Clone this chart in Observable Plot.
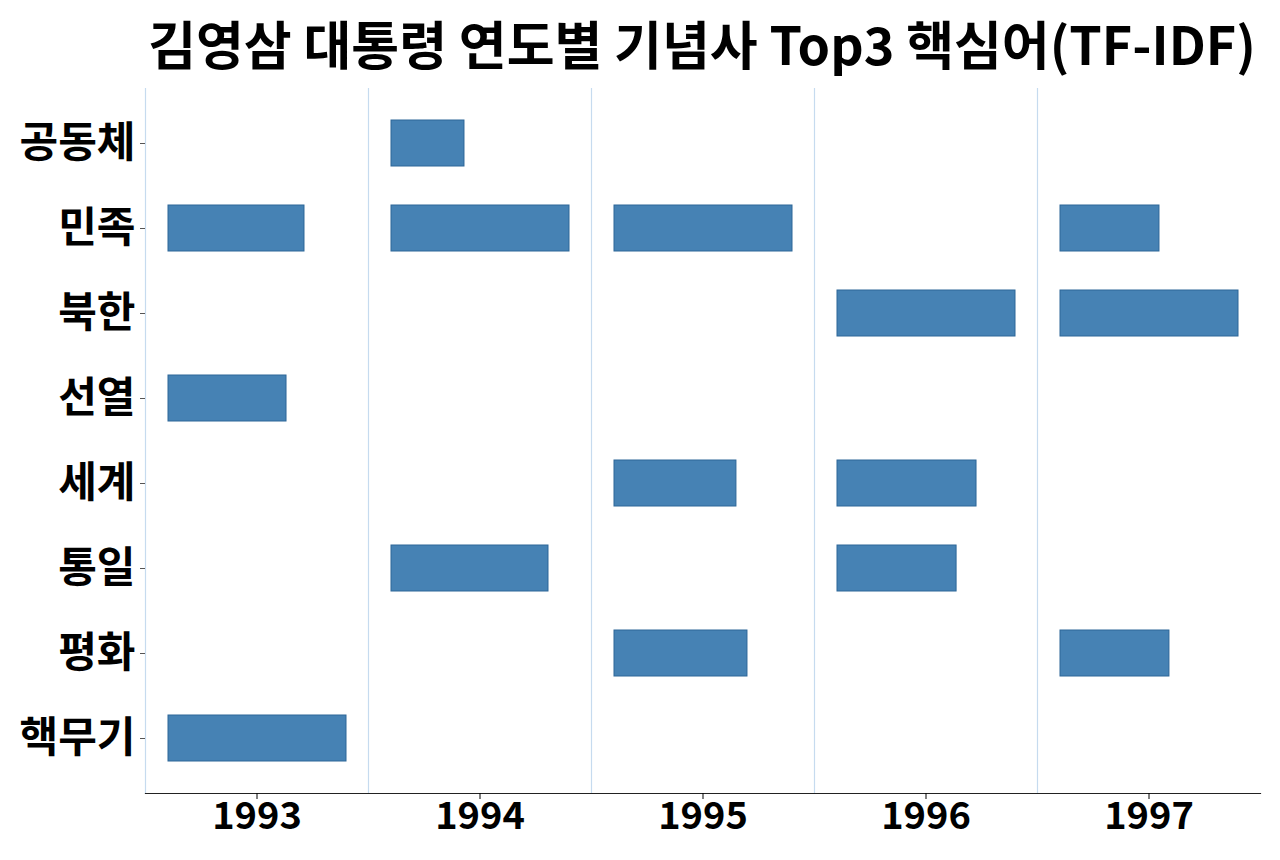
<!DOCTYPE html>
<html>
<head>
<meta charset="utf-8">
<script src="https://cdn.jsdelivr.net/npm/d3@7"></script>
<script src="https://cdn.jsdelivr.net/npm/@observablehq/plot@0.6"></script>
<style>
  html, body { margin: 0; padding: 0; background: #fff; }
  body { width: 1280px; height: 860px; overflow: hidden; font-family: "Noto Sans CJK KR", "Noto Sans", sans-serif; }
  #title { height: 85px; width: 1280px; box-sizing: border-box; padding-left: 144px; padding-right: 20px;
           text-align: center; font-size: 52px; font-weight: bold; line-height: 85px; color: #000; white-space: nowrap; }
</style>
</head>
<body>
<div id="title">김영삼 대통령 연도별 기념사 Top3 핵심어(TF-IDF)</div>
<div id="chart"></div>
<script>
// Tick labels / categories
const years = ["1993", "1994", "1995", "1996", "1997"];
const words = ["공동체", "민족", "북한", "선열", "세계", "통일", "평화", "핵무기"];

// Series (relative TF-IDF score, top keyword of each year = 1)
const yearCol  = ["1993", "1993", "1993", "1994", "1994", "1994", "1995", "1995", "1995", "1996", "1996", "1996", "1997", "1997", "1997"];
const wordCol  = ["핵무기", "민족", "선열", "민족", "통일", "공동체", "민족", "평화", "세계", "북한", "세계", "통일", "북한", "평화", "민족"];
const scoreCol = [1.0, 0.764, 0.663, 1.0, 0.882, 0.41, 1.0, 0.747, 0.685, 1.0, 0.781, 0.669, 1.0, 0.612, 0.556];

const data = yearCol.map((y, i) => ({year: y, word: wordCol[i], score: scoreCol[i]}));

const chart = Plot.plot({
  width: 1280,
  height: 775,
  marginTop: 3,
  marginBottom: 67,
  marginLeft: 144,
  marginRight: 20,
  style: {fontFamily: "'Noto Sans CJK KR', 'Noto Sans', sans-serif", fontWeight: "bold", background: "#fff", color: "#000"},
  fx: {domain: years, padding: 0, label: null},
  x: {domain: [0, 1], insetLeft: 23, insetRight: 22, axis: null},
  y: {domain: words, paddingInner: 0.46, paddingOuter: 0.377, label: null},
  marks: [
    Plot.frame({anchor: "left", stroke: "#c6dbef", strokeWidth: 1.2, strokeOpacity: 1}),
    Plot.barX(data, {fx: "year", y: "word", x: "score", fill: "#4682b4", stroke: "#2c6698", strokeWidth: 1}),
    Plot.frame({anchor: "bottom", stroke: "#222", strokeWidth: 1.2, strokeOpacity: 1}),
    Plot.axisY({tickSize: 5, tickPadding: 5, fontSize: 42, stroke: "#555"}),
    Plot.axisFx({anchor: "bottom", tickSize: 6, tickPadding: 3, fontSize: 38, label: null})
  ]
});
document.getElementById("chart").appendChild(chart);
</script>
</body>
</html>
